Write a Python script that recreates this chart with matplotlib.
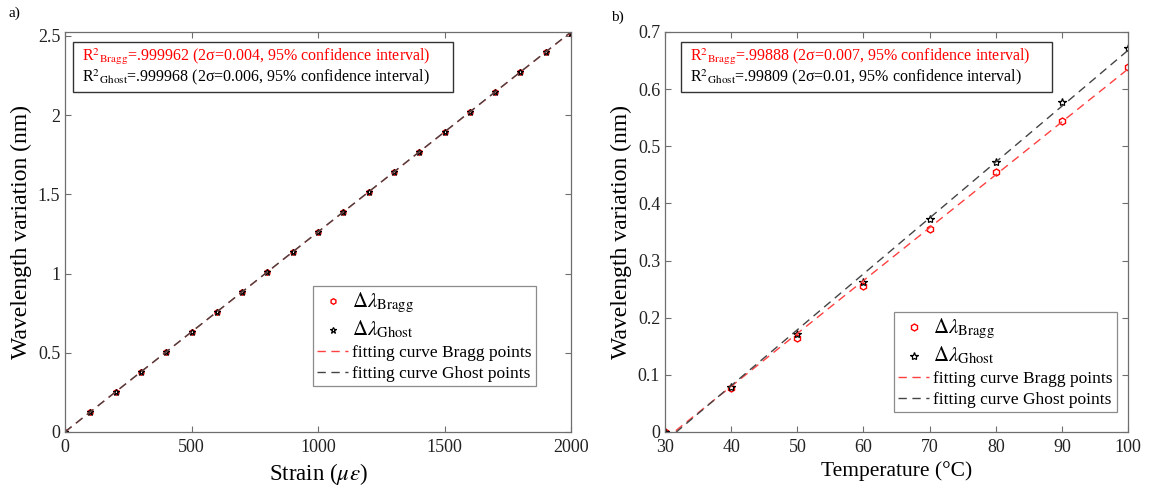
import numpy as np
import matplotlib
matplotlib.use("Agg")
import matplotlib.pyplot as plt

plt.rcParams['font.family'] = ['Liberation Serif', 'DejaVu Serif']
plt.rcParams['mathtext.fontset'] = 'stix'

# panel a) strain
strain = [0, 100, 200, 300, 400, 500, 600, 700, 800, 900, 1000,
          1100, 1200, 1300, 1400, 1500, 1600, 1700, 1800, 1900, 2000]
bragg_a = [0, 0.126, 0.252, 0.378, 0.505, 0.632, 0.757, 0.884, 1.010, 1.138, 1.264,
           1.390, 1.516, 1.642, 1.768, 1.894, 2.020, 2.146, 2.272, 2.398, 2.520]
ghost_a = [0, 0.126, 0.252, 0.379, 0.506, 0.632, 0.758, 0.885, 1.011, 1.139, 1.265,
           1.391, 1.517, 1.643, 1.769, 1.895, 2.021, 2.147, 2.273, 2.399, 2.521]

# panel b) temperature
temp = [30, 40, 50, 60, 70, 80, 90, 100]
bragg_b = [0, 0.077, 0.165, 0.255, 0.355, 0.455, 0.545, 0.638]
ghost_b = [0, 0.078, 0.171, 0.262, 0.372, 0.472, 0.578, 0.672]

r2_a = ["R$^{2}$$_{\\mathrm{Bragg}}$=.999962 (2σ=0.004, 95% confidence interval)",
        "R$^{2}$$_{\\mathrm{Ghost}}$=.999968 (2σ=0.006, 95% confidence interval)"]
r2_b = ["R$^{2}$$_{\\mathrm{Bragg}}$=.99888 (2σ=0.007, 95% confidence interval)",
        "R$^{2}$$_{\\mathrm{Ghost}}$=.99809 (2σ=0.01, 95% confidence interval)"]

GREY = '#6e6e6e'

fig = plt.figure(figsize=(11.49, 4.88), dpi=100)
ax1 = fig.add_axes([0.0566, 0.1148, 0.4404, 0.8197])
ax2 = fig.add_axes([0.5788, 0.1148, 0.4030, 0.8197])


def style(ax):
    for s in ax.spines.values():
        s.set_color(GREY)
        s.set_linewidth(0.9)
    ax.tick_params(direction='in', top=True, right=True, colors=GREY,
                   labelcolor='#222222', labelsize=13, length=4)
    ax.tick_params(axis='x', pad=5)


def draw(ax, x, yb, yg, xlim, ylim, ms_b, ms_g):
    x = np.array(x, dtype=float)
    pb = np.polyfit(x, yb, 1)
    pg = np.polyfit(x, yg, 1)
    xf = np.linspace(xlim[0], xlim[1], 200)
    ax.plot(x, yb, linestyle='none', marker='h', mfc='none', mec='red',
            ms=ms_b, mew=1.0, label=r'$\Delta\lambda_{\mathrm{Bragg}}$')
    ax.plot(x, yg, linestyle='none', marker='*', mfc='none', mec='black',
            ms=ms_g, mew=0.9, label=r'$\Delta\lambda_{\mathrm{Ghost}}$')
    ax.plot(xf, np.polyval(pb, xf), '--', color='#ff4040', lw=1.0,
            dashes=(6, 4), label='fitting curve Bragg points')
    ax.plot(xf, np.polyval(pg, xf), '--', color='#444444', lw=1.0,
            dashes=(6, 4), label='fitting curve Ghost points')
    ax.set_xlim(*xlim)
    ax.set_ylim(*ylim)
    style(ax)


def legend(ax, anchor):
    leg = ax.legend(loc='lower right', bbox_to_anchor=anchor, fontsize=12.5,
                    frameon=True, fancybox=False, edgecolor=GREY, borderpad=0.25,
                    handlelength=1.8, handletextpad=0.2, labelspacing=0.25,
                    borderaxespad=0)
    leg.get_frame().set_linewidth(0.9)
    for t in leg.get_texts()[:2]:
        t.set_fontsize(15)


draw(ax1, strain, bragg_a, ghost_a, (0, 2000), (0, 2.525), 4, 5)
ax1.set_xticks([0, 500, 1000, 1500, 2000])
ax1.set_yticks([0, 0.5, 1, 1.5, 2, 2.5])
ax1.set_yticklabels(['0', '0.5', '1', '1.5', '2', '2.5'])
ax1.set_xlabel(r'Strain ($\mu\epsilon$)', fontsize=16.5)
ax1.set_ylabel('Wavelength variation (nm)', fontsize=17)
legend(ax1, (0.93, 0.115))

draw(ax2, temp, bragg_b, ghost_b, (30, 100), (0, 0.7), 5, 6)
ax2.set_xticks([30, 40, 50, 60, 70, 80, 90, 100])
ax2.set_yticks([0, 0.1, 0.2, 0.3, 0.4, 0.5, 0.6, 0.7])
ax2.set_yticklabels(['0', '0.1', '0.2', '0.3', '0.4', '0.5', '0.6', '0.7'])
ax2.set_xlabel('Temperature (°C)', fontsize=15.5)
ax2.set_ylabel('Wavelength variation (nm)', fontsize=17)
legend(ax2, (0.975, 0.05))


def r2box(ax, lines, x0, y0, w, h):
    ax.add_patch(plt.Rectangle((x0, y0 - h), w, h, transform=ax.transAxes,
                               fill=True, fc='white', ec='#333333', lw=1.0, zorder=5))
    ax.text(x0 + 0.018, y0 - 0.010, lines[0], transform=ax.transAxes,
            color='red', fontsize=11.5, va='top', zorder=6)
    ax.text(x0 + 0.018, y0 - 0.063, lines[1], transform=ax.transAxes,
            color='black', fontsize=11.5, va='top', zorder=6)


r2box(ax1, r2_a, 0.016, 0.975, 0.75, 0.125)
r2box(ax2, r2_b, 0.035, 0.975, 0.80, 0.125)

fig.text(0.007, 0.965, 'a)', fontsize=11)
fig.text(0.532, 0.958, 'b)', fontsize=11)

fig.savefig('out.png', dpi=100)
